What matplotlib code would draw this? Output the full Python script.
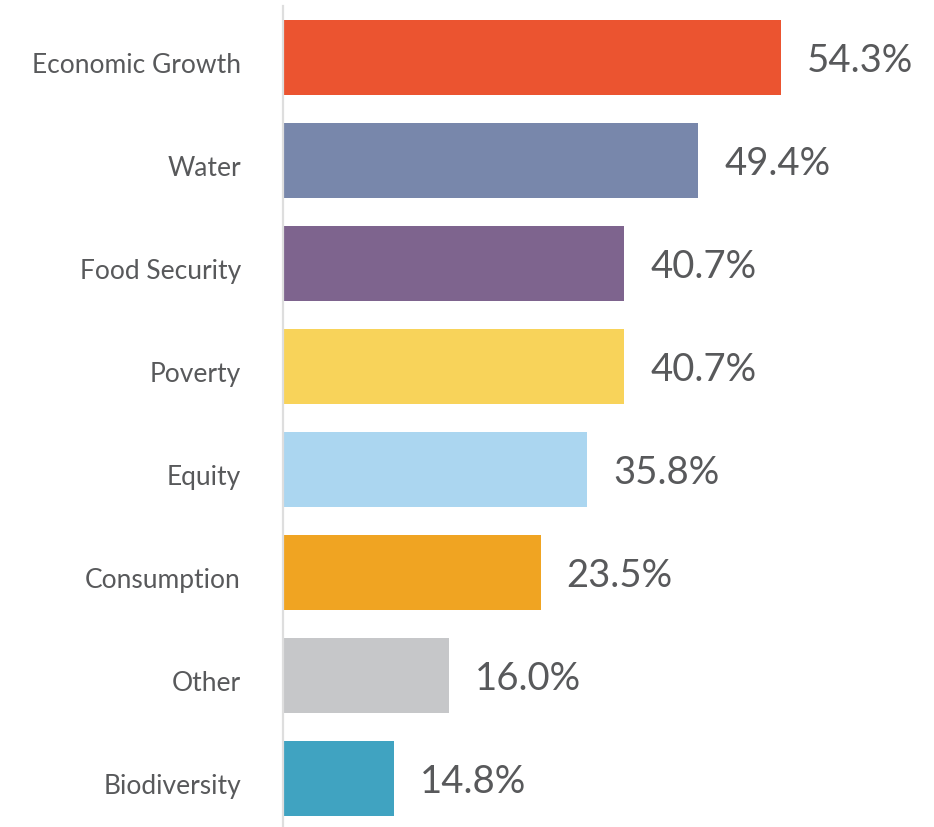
import matplotlib
matplotlib.use("Agg")
import matplotlib.pyplot as plt

categories = ["Economic Growth", "Water", "Food Security", "Poverty",
              "Equity", "Consumption", "Other", "Biodiversity"]
# printed value labels
values = [54.3, 49.4, 40.7, 40.7, 35.8, 23.5, 16.0, 14.8]
# bar lengths as drawn in the picture (the drawn bars are not strictly to scale)
bar_lengths = [54.3, 45.3, 37.2, 37.2, 33.2, 28.1, 18.1, 12.1]
colors = ["#EB5430", "#7887AB", "#7E648E", "#F8D35A",
          "#ABD6F0", "#F0A422", "#C6C7C9", "#40A3C1"]

plt.rcParams['font.family'] = ['Lato', 'DejaVu Sans']
text_color = "#58595B"

W, H = 934, 827
fig = plt.figure(figsize=(W / 100, H / 100), dpi=100)
left = 283 / W
top = 6 / H
ax = fig.add_axes([left, 0, 1 - left, 1 - top])

y = list(range(len(categories)))
ax.barh(y, bar_lengths, height=0.73, color=colors, left=0)
ax.set_ylim(len(categories) - 0.53, -0.5)
ax.set_xlim(0, 71)

px = 0.72  # points per pixel at dpi 100
for yi, bl, v, cat in zip(y, bar_lengths, values, categories):
    ax.annotate(f"{v:.1f}%", xy=(bl, yi), xytext=(26 * px, -14 * px),
                textcoords="offset points", va="baseline", ha="left",
                fontsize=27.5, color=text_color)
    ax.annotate(cat, xy=(0, yi), xytext=(-42 * px, -15.5 * px),
                textcoords="offset points", va="baseline", ha="right",
                fontsize=19, color=text_color, annotation_clip=False)

ax.set_yticks([])
ax.set_xticks([])
for s in ["top", "right", "bottom"]:
    ax.spines[s].set_visible(False)
ax.spines["left"].set_color("#DEDEDE")
ax.spines["left"].set_linewidth(1.6)
ax.patch.set_alpha(0)

fig.savefig("out.png", dpi=100)
